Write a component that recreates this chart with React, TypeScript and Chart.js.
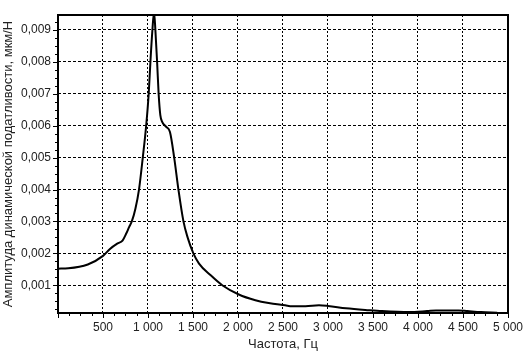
import React, { useEffect, useRef } from "react";
import { Chart, registerables } from "chart.js";

Chart.register(...registerables);

const freqHz = [
  0, 114, 331, 500, 574, 662, 717, 758, 790, 820, 860, 900, 942, 979, 1008, 1027, 1049, 1067,
  1082, 1101, 1118, 1137, 1159, 1200, 1244, 1291, 1339, 1394, 1440, 1504, 1567, 1697,
  1825, 2009, 2193, 2340, 2524, 2600, 2750, 2900, 3000, 3200, 3450, 3600, 3900, 4100,
  4200, 4450, 4550, 4700, 4880,
];
const amplitude = [
  0.00152, 0.00153, 0.00165, 0.00192, 0.00213, 0.00231, 0.0024, 0.00262, 0.00282, 0.003,
  0.0034, 0.004, 0.005, 0.00598, 0.00701, 0.00801, 0.009, 0.00956, 0.009, 0.00801, 0.00701,
  0.00633, 0.00611, 0.00597, 0.0058, 0.005, 0.00398, 0.003, 0.0025, 0.002, 0.00168, 0.00131,
  0.001, 0.00071, 0.00053, 0.00044, 0.00037, 0.00034, 0.00034, 0.00037, 0.00035, 0.00028,
  0.00022, 0.00019, 0.00016, 0.00019, 0.00021, 0.00021, 0.00019, 0.00016, 0.00014,
];
const xTicks = [500, 1000, 1500, 2000, 2500, 3000, 3500, 4000, 4500, 5000];
const yTicks = [0.001, 0.002, 0.003, 0.004, 0.005, 0.006, 0.007, 0.008, 0.009];
const xTitle = "Частота, Гц";
const yTitle = "Амплитуда динамической податливости, мкм/Н";

const FONT = "'Liberation Sans', Arial, sans-serif";

const boxPlugin = {
  id: "boxAndMinor",
  afterDraw(chart: any) {
    const { ctx, chartArea } = chart;
    const xs = chart.scales.x;
    const ys = chart.scales.y;
    ctx.save();
    ctx.strokeStyle = "#000";
    ctx.lineWidth = 1;
    ctx.setLineDash([]);
    for (let v = 0; v <= 5000; v += 125) {
      const px = Math.round(xs.getPixelForValue(v)) + 0.5;
      const len = v % 500 === 0 ? 5 : 3;
      ctx.beginPath();
      ctx.moveTo(px, chartArea.bottom);
      ctx.lineTo(px, chartArea.bottom + len);
      ctx.stroke();
    }
    for (let i = 1; i <= 37; i++) {
      const v = i * 0.00025;
      if (v > ys.max) break;
      const py = Math.round(ys.getPixelForValue(v)) + 0.5;
      const len = i % 4 === 0 ? 5 : 3;
      ctx.beginPath();
      ctx.moveTo(chartArea.left, py);
      ctx.lineTo(chartArea.left - len, py);
      ctx.stroke();
    }
    ctx.lineWidth = 2;
    ctx.strokeRect(
      Math.round(chartArea.left),
      Math.round(chartArea.top),
      Math.round(chartArea.right - chartArea.left),
      Math.round(chartArea.bottom - chartArea.top)
    );
    ctx.restore();
  },
};

export default function App() {
  const ref = useRef<HTMLCanvasElement>(null);
  useEffect(() => {
    if (!ref.current) return;
    const chart = new Chart(ref.current, {
      type: "line",
      data: {
        datasets: [
          {
            data: freqHz.map((f, i) => ({ x: f, y: amplitude[i] })),
            borderColor: "#000",
            borderWidth: 2,
            pointRadius: 0,
            fill: false,
            cubicInterpolationMode: "monotone",
          },
        ],
      },
      options: {
        animation: false,
        responsive: false,
        layout: { padding: { top: 15, right: 18, left: 0, bottom: 0 } },
        plugins: { legend: { display: false }, tooltip: { enabled: false } },
        scales: {
          x: {
            type: "linear",
            min: 0,
            max: 5000,
            afterFit: (s: any) => {
              s.height = 41;
            },
            afterBuildTicks: (s: any) => {
              s.ticks = xTicks.map((v) => ({ value: v }));
            },
            grid: {
              color: "#000",
              lineWidth: 1,
              drawTicks: false,
            },
            border: { display: false, dash: [2, 2] } as any,
            ticks: {
              color: "#222",
              font: { family: FONT, size: 12 },
              padding: 7,
              maxRotation: 0,
              autoSkip: false,
              callback: (v: any) => String(v).replace(/\B(?=(\d{3})+(?!\d))/g, " "),
            },
            title: {
              display: true,
              text: xTitle,
              color: "#222",
              font: { family: FONT, size: 13 },
              padding: { top: 0, bottom: 2 },
            },
          },
          y: {
            type: "linear",
            min: 0.00013,
            max: 0.00947,
            afterFit: (s: any) => {
              s.width = 58;
            },
            afterBuildTicks: (s: any) => {
              s.ticks = yTicks.map((v) => ({ value: v }));
            },
            grid: {
              color: "#000",
              lineWidth: 1,
              drawTicks: false,
            },
            border: { display: false, dash: [3, 2] } as any,
            ticks: {
              color: "#222",
              font: { family: FONT, size: 12 },
              padding: 7,
              autoSkip: false,
              callback: (v: any) => Number(v).toFixed(3).replace(".", ","),
            },
            title: {
              display: true,
              text: yTitle,
              color: "#222",
              font: { family: FONT, size: 13 },
              padding: { top: 1, bottom: 0 },
            },
          },
        },
      },
      plugins: [boxPlugin],
    } as any);
    return () => chart.destroy();
  }, []);
  return (
    <canvas
      ref={ref}
      width={530}
      height={354}
      style={{ position: "absolute", left: 0, top: 0, width: 530, height: 354 }}
    />
  );
}
